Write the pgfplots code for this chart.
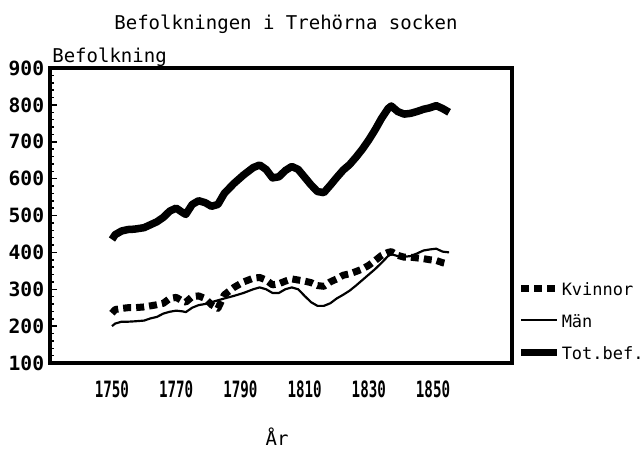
\documentclass[border=0pt]{standalone}
\usepackage{fontspec}
\setmainfont{DejaVu Sans Mono}
\usepackage{graphicx}
\usepackage{pgfplots}
\usepackage{pgfplotstable}
\pgfplotsset{compat=1.18}

\pgfplotstableread{
year kv man tot
1750 235 200 435
1751 245 207 448
1753 248 212 458
1755 250 212 462
1757 250 213 463
1760 252 215 467
1762 255 221 475
1764 258 225 483
1766 262 234 495
1768 275 239 512
1770 278 242 520
1772 268 240 508
1773 265 238 503
1775 280 250 530
1777 282 257 540
1779 275 260 535
1781 258 265 525
1783 248 270 530
1785 285 275 560
1788 305 282 587
1791 320 290 610
1794 330 300 630
1796 332 305 637
1798 325 300 625
1800 312 290 602
1802 315 290 605
1804 322 300 622
1806 328 305 633
1808 325 300 625
1810 322 282 604
1812 318 265 583
1814 310 255 565
1816 308 255 562
1818 320 262 582
1820 328 275 603
1822 338 285 623
1824 342 296 638
1826 348 310 658
1828 355 325 680
1830 365 340 705
1832 378 355 733
1834 392 372 764
1836 400 390 790
1837 402 395 797
1839 392 390 782
1841 387 388 775
1843 387 390 777
1845 385 397 782
1847 383 405 788
1849 380 408 792
1851 378 410 798
1853 372 402 790
1855 368 400 780
}\popdata

\begin{document}
\begin{tikzpicture}
\path[use as bounding box] (-30pt,-52.8pt) rectangle (355.8pt,217.8pt);
\begin{axis}[
  at={(0pt,0pt)}, anchor=south west,
  width=277.2pt, height=177pt, scale only axis,
  xmin=1730.7, xmax=1874.6, ymin=100, ymax=900,
  xtick={1750,1770,...,1850}, ytick={100,200,...,900},
  minor y tick num=4,
  xtick pos=bottom, ytick pos=left,
  tick align=inside,
  major x tick style={draw=none},
  minor x tick style={draw=none},
  major tick length=4.5pt, minor tick length=2.4pt,
  y tick style={line width=0.9pt, black},
  axis line style={line width=2.2pt},
  /pgf/number format/assume math mode=true,
  /pgf/number format/set thousands separator={},
  xticklabel={\scalebox{0.63}[1]{\bfseries\fontsize{13.5}{14}\selectfont\pgfmathprintnumber{\tick}}},
  xticklabel style={yshift=-7pt},
  yticklabel style={font=\bfseries\fontsize{11.8}{13}\selectfont},
  legend image code/.code={\draw[#1] (0pt,0pt) -- (21.5pt,0pt);},
  legend cell align=left,
  legend style={draw=none, fill=none, at={(1.011,0.28)}, anchor=north west,
    font=\fontsize{10.2}{12}\selectfont, inner sep=0pt,
    row sep=10pt, column sep=0pt,
    nodes={inner sep=0.6pt, text height=8pt, text depth=0pt}},
]
\addplot[black, line width=4.2pt, dash pattern=on 4.8pt off 3pt, line join=round] table[x=year,y=kv]{\popdata};
\addlegendentry{Kvinnor}
\addplot[black, line width=1.3pt, line join=round] table[x=year,y=man]{\popdata};
\addlegendentry{Män}
\addplot[black, line width=4.5pt, line join=round] table[x=year,y=tot]{\popdata};
\addlegendentry{Tot.bef.}
\end{axis}
\node[anchor=base, font=\fontsize{11.4}{12}\selectfont] at (141.6pt,199.8pt) {Befolkningen i Trehörna socken};
\node[anchor=base west, inner sep=0pt, font=\fontsize{11.4}{12}\selectfont] at (1.2pt,180pt) {Befolkning};
\node[anchor=base, inner sep=0pt, font=\fontsize{11.4}{12}\selectfont] at (136.2pt,-49.5pt) {År};
\end{tikzpicture}
\end{document}
